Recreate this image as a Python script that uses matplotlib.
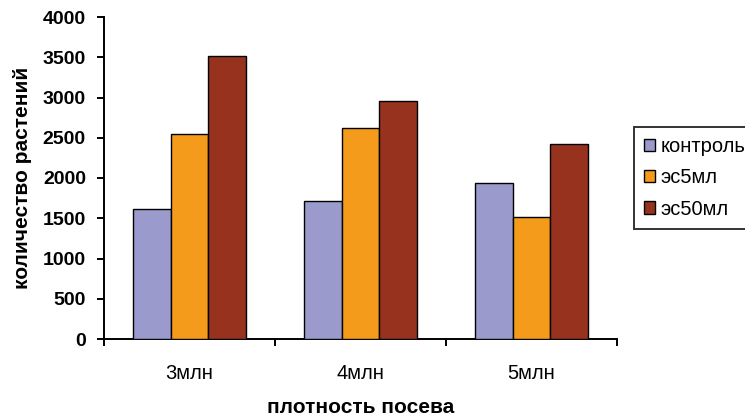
import matplotlib
matplotlib.use("Agg")
import matplotlib.pyplot as plt
import numpy as np
from matplotlib.ticker import FixedLocator, MultipleLocator

categories = ["3млн", "4млн", "5млн"]
series_names = ["контроль", "эс5мл", "эс50мл"]
control = [1620, 1720, 1940]
es5 = [2550, 2620, 1510]
es50 = [3520, 2960, 2420]
colors = ["#9a9acd", "#f59b1c", "#96321e"]

plt.rcParams['font.family'] = ['Liberation Sans', 'DejaVu Sans']

fig = plt.figure(figsize=(7.45, 4.18), dpi=100)
ax = fig.add_axes([104/745, 1-339/418, (617-104)/745, (339-17)/418])

x = np.arange(len(categories))
w = 0.22
for i, (vals, name, c) in enumerate(zip([control, es5, es50], series_names, colors)):
    ax.bar(x + (i-1)*w, vals, width=w, color=c, edgecolor="black", linewidth=1.0,
           label=name, zorder=3)

ax.set_xlim(-0.5, len(categories)-0.5)
ax.set_ylim(0, 4000)
ax.yaxis.set_major_locator(MultipleLocator(500))
ax.set_axisbelow(True)
ax.yaxis.grid(True, color="black", linewidth=1.4, zorder=0)
for t in ax.yaxis.get_major_ticks():
    if t.get_loc() >= 4000 or t.get_loc() <= 0:
        t.gridline.set_visible(False)

ax.set_xticks(x)
ax.set_xticklabels(categories, fontsize=14.5)
ax.xaxis.set_minor_locator(FixedLocator(np.arange(len(categories)+1) - 0.5))
ax.tick_params(axis='x', which='major', length=0, pad=18)
ax.tick_params(axis='x', which='minor', length=5, width=1.4, direction='out')
ax.tick_params(axis='y', length=5, width=1.4, direction='out', labelsize=14, pad=8)
for lbl in ax.get_yticklabels():
    lbl.set_fontweight('bold')

for s in ['top', 'right']:
    ax.spines[s].set_visible(False)
for s in ['left', 'bottom']:
    ax.spines[s].set_linewidth(1.4)

ax.set_ylabel("количество растений", fontsize=15, fontweight='bold', labelpad=8)
ax.set_xlabel("плотность посева", fontsize=15, fontweight='bold')
ax.xaxis.set_label_coords(0.5, (339-398)/322)

leg = fig.legend(loc='center left', bbox_to_anchor=(634/745, 1-178/418), fontsize=14.5,
                 frameon=True, fancybox=False, edgecolor='black', handlelength=0.55,
                 handleheight=0.55, handletextpad=0.25, labelspacing=0.6,
                 borderpad=0.5, borderaxespad=0)
leg.get_frame().set_linewidth(1.4)

fig.savefig("out.png", dpi=100)
